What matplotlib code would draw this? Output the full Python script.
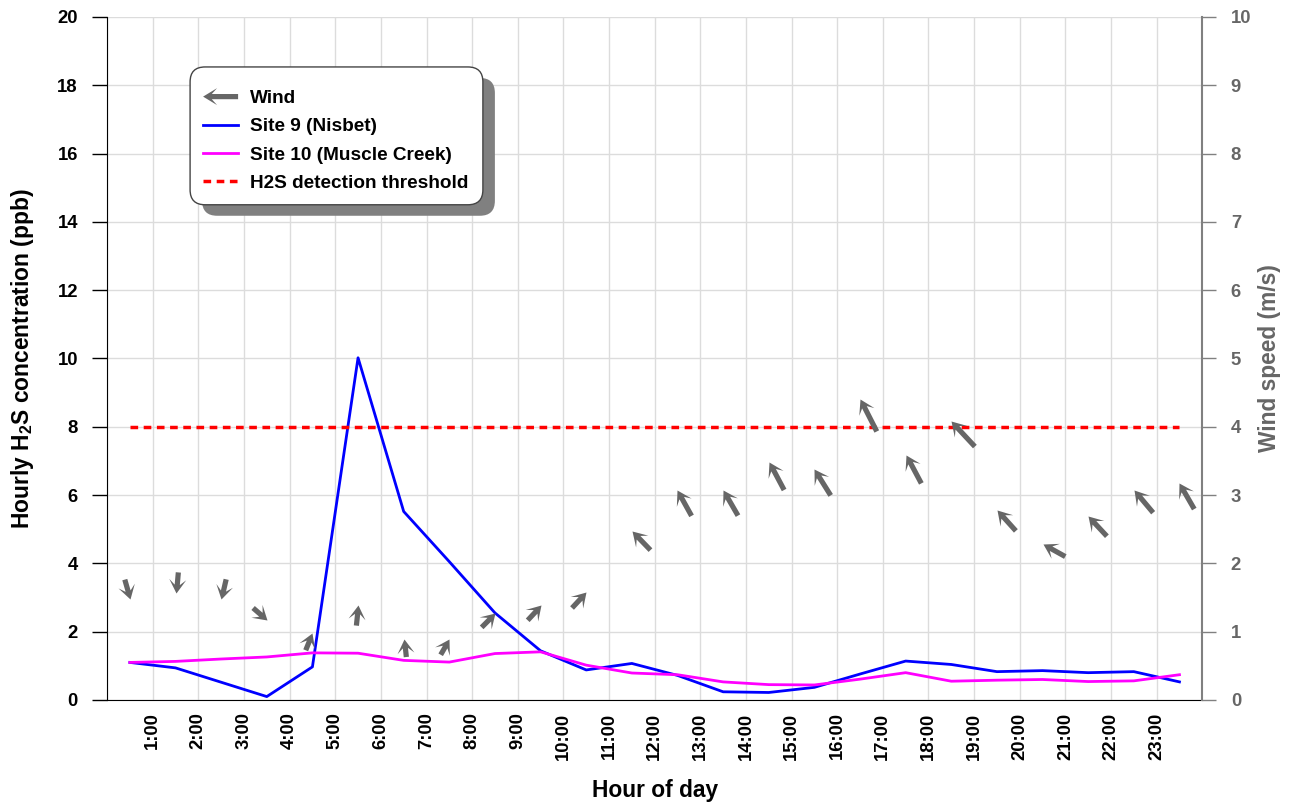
import numpy as np
import matplotlib
matplotlib.use("Agg")
import matplotlib.pyplot as plt
from matplotlib.legend_handler import HandlerBase
from matplotlib.patches import Polygon, FancyBboxPatch
from matplotlib.lines import Line2D
from matplotlib.path import Path
from matplotlib.markers import MarkerStyle
from matplotlib.transforms import Affine2D, IdentityTransform

plt.rcParams['font.family'] = ['Liberation Sans', 'DejaVu Sans']
plt.rcParams['font.weight'] = 'bold'
plt.rcParams['mathtext.fontset'] = 'custom'
plt.rcParams['mathtext.rm'] = 'Liberation Sans:bold'
plt.rcParams['mathtext.bf'] = 'Liberation Sans:bold'

# Hourly values (plotted at the middle of each hour)
hours = [0.5, 1.5, 2.5, 3.5, 4.5, 5.5, 6.5, 7.5, 8.5, 9.5, 10.5, 11.5,
         12.5, 13.5, 14.5, 15.5, 16.5, 17.5, 18.5, 19.5, 20.5, 21.5, 22.5, 23.5]
site9 = [1.10, 0.94, 0.52, 0.10, 0.97, 10.02, 5.52, 4.05, 2.55, 1.44, 0.88, 1.07,
         0.72, 0.24, 0.22, 0.37, 0.76, 1.14, 1.04, 0.83, 0.86, 0.80, 0.83, 0.53]
site10 = [1.10, 1.13, 1.20, 1.26, 1.38, 1.37, 1.16, 1.11, 1.36, 1.41, 1.02, 0.79,
          0.74, 0.53, 0.45, 0.44, 0.61, 0.80, 0.55, 0.58, 0.60, 0.54, 0.56, 0.74]
threshold = 8
wind_speed = [1.48, 1.57, 1.48, 1.17, 0.98, 1.39, 0.89, 0.89, 1.27, 1.39, 1.58, 2.48,
              3.08, 3.08, 3.49, 3.38, 4.40, 3.58, 4.09, 2.78, 2.29, 2.69, 3.08, 3.18]
# direction the arrow points (degrees, counter-clockwise from east)
wind_dir = [-74, -95, -103, -41, 68, 84, 96, 60, 45, 47, 47, 134,
            119, 120, 118, 122, 117, 118, 133, 132, 151, 133, 130, 120]
tick_hours = list(range(1, 24))
tick_labels = [f"{h}:00" for h in tick_hours]

ARROW_COLOR = '#666666'
PT = 0.72  # points per pixel at dpi 100
HEAD_LEN, HEAD_HW, SHAFT_HW = 14.0, 8.5, 2.6  # pixels


def arrow_verts(length):
    # arrow pointing +x with its tip at the origin, barbed head
    hl, hw, sw = HEAD_LEN / length, HEAD_HW / length, SHAFT_HW / length
    notch = 0.62 * hl
    return [(0, 0), (-hl, hw), (-notch, sw), (-1, sw), (-1, -sw),
            (-notch, -sw), (-hl, -hw), (0, 0)]


def arrow_marker(angle, length):
    verts = arrow_verts(length)
    codes = [Path.MOVETO] + [Path.LINETO] * 6 + [Path.CLOSEPOLY]
    path = Affine2D().rotate_deg(angle).transform_path(Path(verts, codes))
    m = np.max(np.abs(path.vertices))
    return MarkerStyle(path), 2 * length * PT * m


class ArrowHandler(HandlerBase):
    def create_artists(self, legend, orig_handle, xdescent, ydescent,
                       width, height, fontsize, trans):
        x0, x1, yc = -xdescent, width - xdescent, height / 2 - ydescent
        hl, hw, sw = HEAD_LEN * PT, HEAD_HW * PT, SHAFT_HW * PT
        pts = [(x0, yc), (x0 + hl, yc + hw), (x0 + 0.62 * hl, yc + sw),
               (x1, yc + sw), (x1, yc - sw), (x0 + 0.62 * hl, yc - sw),
               (x0 + hl, yc - hw)]
        p = Polygon(pts, closed=True, facecolor=ARROW_COLOR, edgecolor='none')
        p.set_transform(trans)
        return [p]


fig = plt.figure(figsize=(12.9, 8.07), dpi=100)
ax = fig.add_axes([0.083, 0.1326, 0.849, 0.8464])
ax2 = ax.twinx()

ax.plot(hours, site9, color='#0000ff', lw=2)
ax.plot(hours, site10, color='#ff00ff', lw=2)
ax.plot([hours[0], hours[-1]], [threshold, threshold], color='#ff0000', lw=2.5,
        linestyle=(0, (2.2, 1.6)))

ax.set_xlim(0, 24)
ax.set_ylim(0, 20)
ax.set_yticks(range(0, 21, 2))
ax.set_xticks(range(0, 25), minor=True)
ax.set_xticks(tick_hours)
ax.set_xticklabels(tick_labels, rotation=90, fontsize=13.3, fontweight='bold')
ax.tick_params(axis='x', which='both', length=0, pad=9)
ax.tick_params(axis='y', length=11, width=1, labelsize=13.3, pad=10)
ax.grid(True, which='both', axis='x', color='#dcdcdc', lw=1)
ax.grid(True, axis='y', color='#dcdcdc', lw=1)
ax.set_axisbelow(True)
for lab in ax.get_yticklabels():
    lab.set_fontweight('bold')

ax.spines['top'].set_visible(False)
ax.spines['right'].set_visible(False)
ax.set_xlabel('Hour of day', fontsize=16.4, fontweight='bold', labelpad=14)
ax.set_ylabel(r'Hourly H$_{\mathbf{2}}$S concentration (ppb)', fontsize=16.4,
              fontweight='bold', labelpad=15)

ax2.set_ylim(0, 10)
ax2.set_yticks(range(0, 11))
ax2.tick_params(axis='y', length=10, width=1, colors='#808080', labelsize=13.3,
                labelcolor='#666666', pad=10.5)
for lab in ax2.get_yticklabels():
    lab.set_fontweight('bold')
for s in ['top', 'left', 'bottom']:
    ax2.spines[s].set_visible(False)
ax2.spines['right'].set_color('#808080')
ax2.spines['right'].set_linewidth(1.5)
ax2.set_ylabel('Wind speed (m/s)', fontsize=16.4, fontweight='bold',
               color='#666666', labelpad=4.5)

# wind arrows: tip at (hour, speed), length grows with speed
for h, s, d in zip(hours, wind_speed, wind_dir):
    marker, msize = arrow_marker(d, 13 + 5.2 * s)
    ax2.plot([h], [s], linestyle='None', marker=marker, markersize=msize,
             markerfacecolor=ARROW_COLOR, markeredgewidth=0, zorder=3)

wind_proxy = object()
handles = [wind_proxy,
           Line2D([], [], color='#0000ff', lw=2),
           Line2D([], [], color='#ff00ff', lw=2),
           Line2D([], [], color='#ff0000', lw=2.5, linestyle=(0, (2.2, 1.6)))]
labels = ['Wind', 'Site 9 (Nisbet)', 'Site 10 (Muscle Creek)', 'H2S detection threshold']
# legend content only; the rounded box and its shadow are drawn below
leg = ax2.legend(handles, labels, handler_map={wind_proxy: ArrowHandler()},
                 loc='upper left', bbox_to_anchor=((203 - 107) / 1095, (700 - 90) / 683),
                 prop={'size': 13.7, 'weight': 'bold'}, frameon=False,
                 borderpad=0, labelspacing=0.57, handlelength=1.84,
                 handletextpad=0.6, borderaxespad=0)
leg.set_zorder(10)

fig.canvas.draw()
bb = leg.get_window_extent()
bx0, by0 = bb.x0 - 13, bb.y0 - 13
bw, bh = bb.width + 13 + 15, bb.height + 13 + 23
shadow = FancyBboxPatch((bx0 + 12, by0 - 11), bw, bh,
                        boxstyle='round,pad=0,rounding_size=15',
                        transform=IdentityTransform(), facecolor='#808080',
                        edgecolor='none', zorder=8)
box = FancyBboxPatch((bx0, by0), bw, bh, boxstyle='round,pad=0,rounding_size=15',
                     transform=IdentityTransform(), facecolor='white',
                     edgecolor='#444444', lw=1, zorder=9)
ax2.add_artist(shadow)
ax2.add_artist(box)

fig.savefig('out.png', dpi=100, facecolor='white')
